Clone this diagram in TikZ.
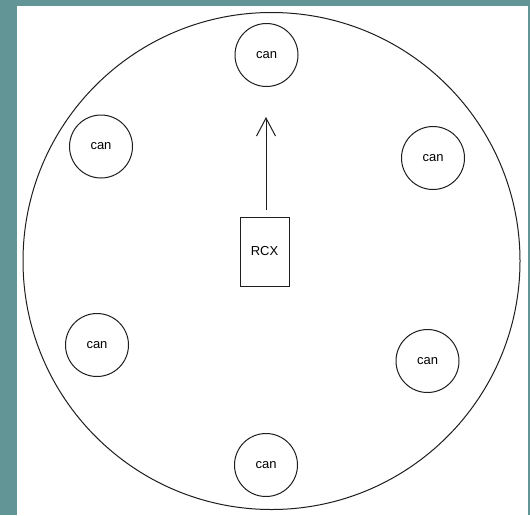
\documentclass[tikz,border=0pt]{standalone}
\usepackage{fontspec}
\setmainfont{Liberation Sans}
\usetikzlibrary{arrows.meta}
\definecolor{FrameTeal}{RGB}{98,150,150}
\definecolor{LineGray}{RGB}{30,30,30}

\begin{document}
\begin{tikzpicture}[x=1pt, y=-1pt,
        arena/.style={draw=LineGray, circle, inner sep=0pt, minimum size=497pt, line width=1pt},
        can/.style={draw=LineGray, circle, inner sep=0pt, minimum size=63pt, line width=1pt,
                    font=\fontsize{13}{15}\selectfont},
        robot/.style={draw=LineGray, inner sep=0pt, minimum width=49pt, minimum height=69pt,
                    line width=1pt, font=\fontsize{13}{15}\selectfont},
        arr/.style={-{Straight Barb[length=18pt, width=19pt, line width=1pt]}, line width=1pt, shorten <=7pt}
]
    \fill[FrameTeal] (0,0) rectangle (530,515);
    \fill[white] (17,6) rectangle (528,515);
    \useasboundingbox (0,0) rectangle (530,515);
    \node[arena] (arena) at (271.5,261) {};
    \node[can] (c1) at (266.5,55) {can};
    \node[can] (c2) at (433,158) {can};
    \node[can] (c3) at (427.5,361) {can};
    \node[can] (c4) at (266,465) {can};
    \node[can] (c5) at (97,345) {can};
    \node[can] (c6) at (101,146.5) {can};
    \node[robot] (rcx) at (264.5,251.5) {RCX};
    \coordinate (goal) at (266,117);
    \draw[arr, LineGray] (rcx.north -| goal) -- (goal);
\end{tikzpicture}
\end{document}
